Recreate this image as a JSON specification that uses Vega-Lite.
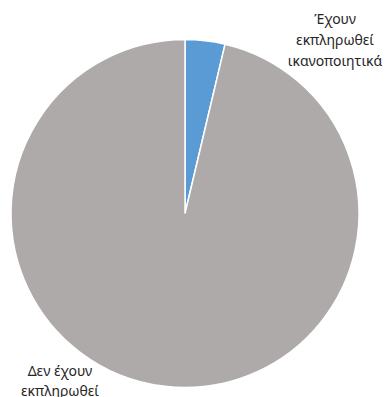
{
  "$schema": "https://vega.github.io/schema/vega-lite/v6.json",
  "width": 370,
  "height": 347,
  "autosize": {"type": "none"},
  "padding": {"left": 0, "top": 40, "right": 15, "bottom": 10},
  "background": "white",
  "config": {"view": {"stroke": null}},
  "data": {
    "values": [
      {"category": "Έχουν εκπληρωθεί ικανοποιητικά", "label": "Έχουν\nεκπληρωθεί\nικανοποιητικά", "value": 3.7, "order": 1},
      {"category": "Δεν έχουν εκπληρωθεί", "label": "Δεν έχουν\nεκπληρωθεί", "value": 96.3, "order": 2}
    ]
  },
  "encoding": {
    "theta": {"field": "value", "type": "quantitative", "stack": true},
    "order": {"field": "order", "type": "quantitative"}
  },
  "layer": [
    {
      "mark": {"type": "arc", "outerRadius": 174, "stroke": "white", "strokeWidth": 1.5},
      "encoding": {
        "color": {
          "field": "category",
          "type": "nominal",
          "scale": {"domain": ["Έχουν εκπληρωθεί ικανοποιητικά", "Δεν έχουν εκπληρωθεί"], "range": ["#5B9BD5", "#AEAAAA"]},
          "legend": null
        }
      }
    },
    {
      "mark": {"type": "text", "radius": 190, "dx": 128, "dy": -5, "align": "center", "baseline": "middle", "lineBreak": "\n", "lineHeight": 21, "font": "Noto Sans", "fontSize": 14, "color": "#262626"},
      "encoding": {
        "text": {"condition": {"test": "datum.order == 1", "field": "label"}, "value": ""}
      }
    },
    {
      "mark": {"type": "text", "radius": 190, "dx": -103, "dy": -30, "align": "center", "baseline": "middle", "lineBreak": "\n", "lineHeight": 20, "font": "Noto Sans", "fontSize": 14, "color": "#262626"},
      "encoding": {
        "text": {"condition": {"test": "datum.order == 2", "field": "label"}, "value": ""}
      }
    }
  ]
}
